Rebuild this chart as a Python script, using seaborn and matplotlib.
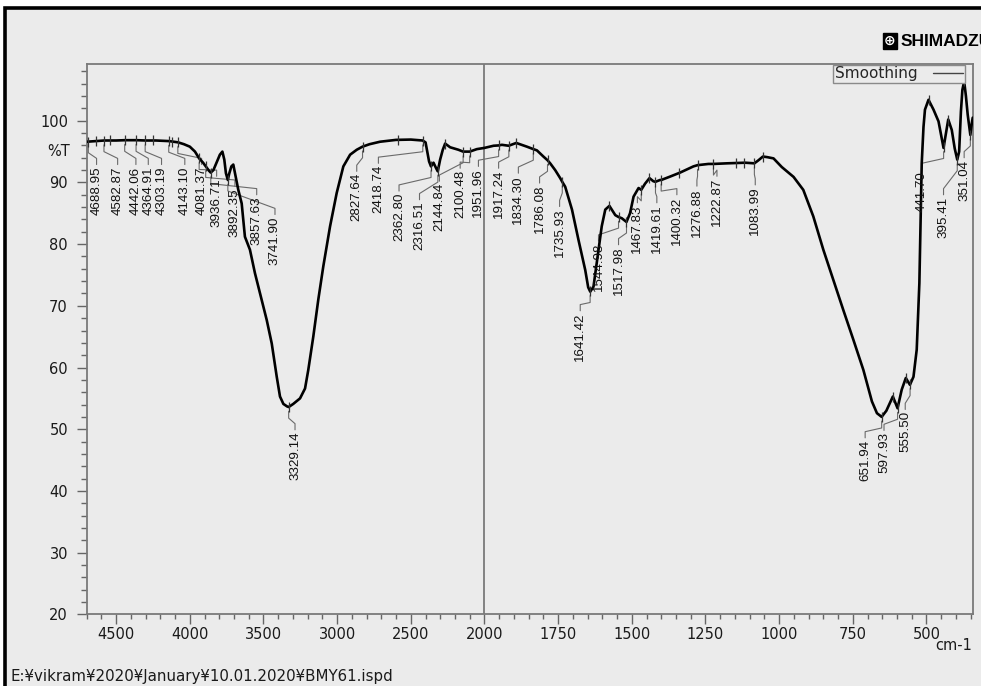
import numpy as np
import pandas as pd
import matplotlib
matplotlib.use("Agg")
import matplotlib.pyplot as plt
from matplotlib.patches import Rectangle
from matplotlib.lines import Line2D
from matplotlib.ticker import FixedLocator, NullFormatter
import seaborn as sns

# ---- IR spectrum (wavenumber in cm-1, transmittance in %T) ----
wavenumber = [
    4700, 4640, 4580, 4500, 4440, 4360, 4300, 4230, 4140, 4080, 4040, 4000,
    3965, 3936.7, 3910, 3892, 3870, 3858, 3840, 3821, 3796, 3779, 3766, 3755,
    3742, 3733, 3718, 3705, 3689, 3671, 3648, 3626, 3592, 3558, 3524, 3478,
    3444, 3410, 3388, 3365, 3340, 3329, 3298, 3252, 3218, 3196, 3162, 3128,
    3094, 3048, 3003, 2958, 2912, 2867, 2828, 2780, 2709, 2600, 2500, 2420,
    2400, 2391, 2376, 2363, 2346, 2328, 2317, 2301, 2283, 2267, 2233, 2177,
    2145, 2120, 2100, 2052, 2000, 1969, 1952, 1941, 1918, 1892, 1856, 1834,
    1822, 1800, 1786, 1777, 1760, 1743, 1736, 1726, 1703, 1681, 1658, 1648,
    1641, 1630, 1619, 1602, 1590, 1576, 1556, 1545, 1534, 1518, 1506, 1494,
    1477, 1468, 1455, 1440, 1427, 1420, 1404, 1400, 1370, 1336, 1291, 1277,
    1240, 1223, 1177, 1115, 1084, 1070, 1055, 1040, 1019, 991, 951, 918,
    884, 850, 816, 782, 748, 714, 685, 668, 652, 636, 614, 598,
    584, 570, 556, 544, 533, 524, 519, 516, 510, 505, 493, 476,
    459, 442, 426, 414, 404, 395.4, 389, 383, 378, 372, 366, 360,
    351, 346, 343,
]
transmittance = [
    96.6, 96.7, 96.8, 96.8, 96.85, 96.85, 96.8, 96.8, 96.7, 96.5, 96.2, 95.8,
    95.0, 93.9, 93.2, 92.6, 91.9, 91.6, 92.0, 93.1, 94.5, 95.0, 93.7, 91.5,
    90.4, 91.4, 92.6, 92.9, 91.0, 88.8, 86.6, 81.2, 79.1, 75.3, 72.1, 67.7,
    63.9, 58.5, 55.3, 54.1, 53.7, 53.6, 54.1, 55.0, 56.6, 59.6, 65.0, 71.0,
    76.4, 82.9, 88.3, 92.6, 94.5, 95.3, 95.8, 96.2, 96.6, 96.9, 96.95, 96.8,
    96.5, 95.3, 93.4, 92.6, 93.2, 92.3, 91.8, 93.7, 95.3, 96.3, 95.7, 95.3,
    95.0, 95.0, 95.0, 95.4, 95.6, 95.95, 96.0, 96.1, 95.95, 96.4, 95.8, 95.4,
    95.2, 94.2, 93.6, 93.1, 92.0, 90.7, 90.1, 89.3, 85.6, 80.7, 75.8, 73.0,
    72.3, 73.1, 76.9, 82.9, 85.6, 86.2, 84.7, 84.4, 84.2, 83.6, 85.0, 87.7,
    89.1, 88.8, 89.8, 90.7, 90.2, 90.1, 90.4, 90.4, 90.95, 91.6, 92.6, 92.8,
    93.0, 93.0, 93.1, 93.2, 93.1, 93.6, 94.2, 94.1, 93.9, 92.5, 90.9, 88.8,
    84.5, 79.1, 74.2, 69.3, 64.5, 59.6, 54.5, 52.6, 52.0, 53.0, 55.3, 53.4,
    56.4, 58.3, 57.2, 58.5, 62.9, 73.7, 85.6, 93.1, 99.0, 101.8, 103.4, 101.8,
    99.9, 95.6, 100.2, 98.5, 95.5, 93.7, 95.0, 101.5, 105.0, 106.4, 104.0, 101.0,
    97.7, 99.6, 100.5,
]

# labelled peak positions (cm-1)
peaks = [
    4688.95, 4582.87, 4442.06, 4364.91, 4303.19, 4143.10, 4081.37, 3936.71,
    3892.35, 3857.63, 3741.90, 3329.14, 2827.64, 2418.74, 2362.80, 2316.51,
    2144.84, 2100.48, 1951.96, 1917.24, 1834.30, 1786.08, 1735.93, 1641.42,
    1544.98, 1517.98, 1467.83, 1419.61, 1400.32, 1276.88, 1222.87, 1083.99,
    651.94, 597.93, 555.50, 441.70, 395.41, 351.04,
]
# where each rotated peak label sits (x in cm-1, top end in %T)
label_x = [
    4633, 4490, 4366, 4282, 4192, 4034, 3920, 3818,
    3694, 3546, 3422, 3286, 2867, 2720, 2580, 2441,
    2306, 2165, 2041, 1952, 1885, 1813, 1745, 1675,
    1613, 1545, 1481, 1415, 1347, 1279, 1211, 1081,
    708, 644, 572, 516, 442, 372,
]
label_top = [
    92.6, 92.6, 92.6, 92.6, 92.6, 92.6, 92.6, 90.7,
    89.1, 87.7, 84.5, 49.6, 91.5, 92.8, 88.3, 86.9,
    89.9, 92.0, 92.3, 92.0, 91.2, 89.6, 85.8, 68.9,
    80.2, 79.6, 86.4, 86.4, 87.7, 89.1, 90.7, 89.3,
    48.3, 49.5, 52.9, 91.8, 87.7, 93.7,
]
# peak-pick marks drawn without a label
unlabelled_marks = [4640, 4540, 4250, 4120, 2584, 2267, 1892, 1576, 1440,
                    1339, 1147, 1118, 1055, 614, 570, 493, 426, 372]

x_major = [4500, 4000, 3500, 3000, 2500, 2000, 1750, 1500, 1250, 1000, 750, 500]
y_major = [20, 30, 40, 50, 60, 70, 80, 90, 100]

BG = "#ebebeb"
sns.set_theme(style="white")
plt.rcParams["font.family"] = ["DejaVu Sans"]

fig = plt.figure(figsize=(9.81, 6.86), dpi=100)
fig.patch.set_facecolor("white")
W, H = 981, 686
frame = Rectangle((5 / W, -0.05), 1.1, 1 - 8 / H + 0.05,
                  transform=fig.transFigure, facecolor=BG,
                  edgecolor="black", lw=2.6)
frame.set_zorder(-10)
fig.patches.append(frame)

ax = fig.add_axes([86.7 / W, 1 - 614.3 / H, 886 / W, 550.3 / H])
ax.set_zorder(1)
ax.set_facecolor(BG)


# the axis is compressed above 2000 cm-1 (half scale)
def fwd(x):
    x = np.asarray(x, dtype=float)
    return np.where(x >= 2000, x - 2000, 2.0 * (x - 2000))


def inv(t):
    t = np.asarray(t, dtype=float)
    return np.where(t >= 0, t + 2000, t / 2.0 + 2000)


ax.set_xscale("function", functions=(fwd, inv))

df = pd.DataFrame({"wavenumber": wavenumber, "T": transmittance})
sns.lineplot(data=df, x="wavenumber", y="T", ax=ax, color="black",
             lw=1.9, estimator=None, sort=True, legend=False, zorder=5)

ax.axvline(2000, color="#7a7a7a", lw=1.3, zorder=1)

asc_w = np.array(wavenumber)[::-1]
asc_t = np.array(transmittance)[::-1]

# peak-pick marks on the curve
marks = list(peaks) + unlabelled_marks
mark_t = np.interp(marks, asc_w, asc_t)
ax.plot(marks, mark_t, ls="none", marker="|", ms=7.5, mew=0.9,
        color="#333333", zorder=6)

# peak labels with leader lines
for v, lx, lt in zip(peaks, label_x, label_top):
    tc = float(np.interp(v, asc_w, asc_t))
    xs = [v, v, lx, lx]
    ys = [tc - 0.7, tc - 1.8, lt + 1.3, lt + 0.3]
    ax.plot(xs, ys, color="#6a6a6a", lw=0.8, zorder=4)
    ax.text(lx, lt, f"{v:.2f}", rotation=90, ha="center", va="top",
            fontsize=9.6, color="#111111",
            family=["Liberation Sans", "DejaVu Sans"], zorder=7)

ax.set_xlim(4700, 343)
ax.set_ylim(20, 109.2)

minor_x = [w for w in range(4700, 2000, -100) if w % 500] + \
          [w for w in range(1950, 340, -50) if w % 250]
ax.xaxis.set_major_locator(FixedLocator(x_major))
ax.xaxis.set_minor_locator(FixedLocator(minor_x))
ax.xaxis.set_minor_formatter(NullFormatter())
ax.set_xticklabels([str(v) for v in x_major])
ax.yaxis.set_major_locator(FixedLocator(y_major))
ax.yaxis.set_minor_locator(FixedLocator(list(range(22, 110, 2))))
ax.set_yticklabels([str(v) for v in y_major])

ax.tick_params(axis="both", which="both", direction="out", color="#666666",
               width=1.0, labelsize=10.5, labelcolor="#1a1a1a")
ax.tick_params(axis="x", which="major", length=7.5, pad=1.5)
ax.tick_params(axis="x", which="minor", length=3.8)
ax.tick_params(axis="y", which="major", length=7.5, pad=6)
ax.tick_params(axis="y", which="minor", length=4.5)
ax.tick_params(left=True, bottom=True, which="both")
ax.set_xlabel("")
ax.set_ylabel("")
for s in ax.spines.values():
    s.set_color("#7a7a7a")
    s.set_linewidth(1.3)
    s.set_visible(True)

leg = ax.legend(handles=[Line2D([], [], color="#444444", lw=1.0)],
                labels=["Smoothing"], loc="upper right",
                bbox_to_anchor=(0.9913, 0.999), bbox_transform=ax.transAxes,
                borderaxespad=0, markerfirst=False, fancybox=False,
                frameon=True, framealpha=1, facecolor=BG, edgecolor="#8a8a8a",
                handlelength=2.0, borderpad=0.1, handletextpad=1.0,
                prop={"family": "DejaVu Sans", "size": 11})
leg.get_frame().set_linewidth(1.0)
leg.set_zorder(10)

fig.text(70 / W, 1 - 151 / H, "%T", ha="right", va="center", fontsize=10.5,
         color="#1a1a1a")
fig.text(972 / W, 1 - 646 / H, "cm-1", ha="right", va="center",
         fontsize=10.5, color="#1a1a1a")
fig.text(10 / W, 1 - 676 / H,
         "E:¥vikram¥2020¥January¥10.01.2020¥BMY61.ispd",
         ha="left", va="center", fontsize=10.8, color="#1a1a1a")

fig.text(890 / W, 1 - 41 / H, "\u2295", ha="center", va="center",
         fontsize=10, color="white", weight="bold",
         bbox=dict(boxstyle="square,pad=0.1", fc="black", ec="black"))
fig.text(901 / W, 1 - 41 / H, "SHIMADZU", ha="left", va="center",
         fontsize=12.5, weight="bold", color="black",
         family=["Liberation Sans", "DejaVu Sans"])

fig.savefig("out.png", dpi=100, facecolor=fig.get_facecolor())
